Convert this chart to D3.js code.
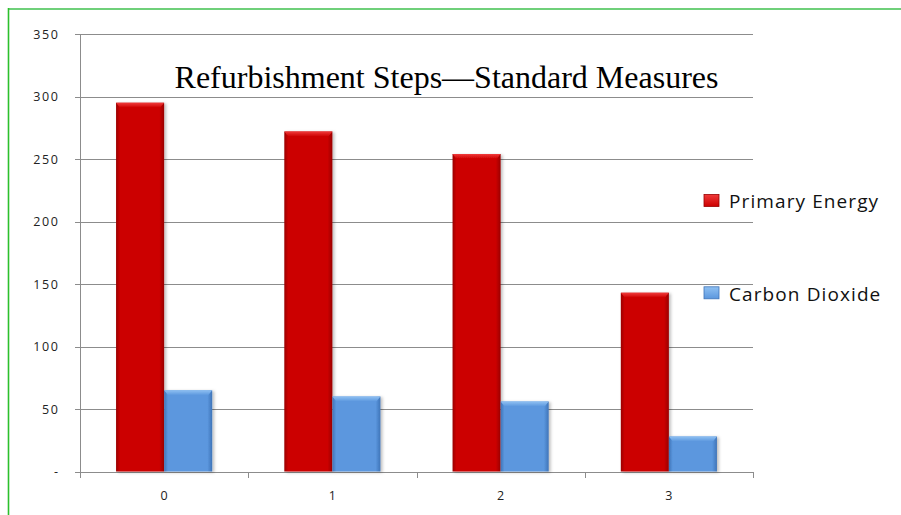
<!DOCTYPE html>
<html>
<head>
<meta charset="utf-8">
<script src="https://cdn.jsdelivr.net/npm/d3@7"></script>
<style>
  html, body { margin: 0; padding: 0; background: #fff; }
  svg { display: block; }
</style>
</head>
<body>
<svg id="chart" width="901" height="515"></svg>
<script>
// Refurbishment steps and the two measured quantities
const steps = ["0", "1", "2", "3"];
const primaryEnergy = [295, 272, 254, 143];
const carbonDioxide = [65, 60, 56, 28];
const yTicks = [0, 50, 100, 150, 200, 250, 300, 350];
const seriesNames = ["Primary Energy", "Carbon Dioxide"];
const titleText = "Refurbishment Steps\u2014Standard Measures";

const svg = d3.select("#chart");
const margin = { left: 80, right: 148, top: 34, bottom: 43.5 };
const W = 901, H = 515;

const x0 = d3.scaleBand().domain(steps).range([margin.left, W - margin.right]).paddingInner(0).paddingOuter(0);
const x1 = d3.scaleBand().domain(seriesNames).range([0, x0.bandwidth()]).paddingInner(0).paddingOuter(0.75);
const y = d3.scaleLinear().domain([0, 350]).range([H - margin.bottom, margin.top]);

const colors = { "Primary Energy": "#cc0000", "Carbon Dioxide": "#5b97de" };
const light = { "Primary Energy": "#f03a3a", "Carbon Dioxide": "#8fc0f2" };
const dark = { "Primary Energy": "#9a0000", "Carbon Dioxide": "#3f74b8" };

const defs = svg.append("defs");
seriesNames.forEach((s, i) => {
  const g = defs.append("linearGradient").attr("id", "side" + i).attr("x1", 0).attr("x2", 1).attr("y1", 0).attr("y2", 0);
  g.append("stop").attr("offset", "0%").attr("stop-color", dark[s]);
  g.append("stop").attr("offset", "8%").attr("stop-color", colors[s]);
  g.append("stop").attr("offset", "90%").attr("stop-color", colors[s]);
  g.append("stop").attr("offset", "100%").attr("stop-color", dark[s]);
  const t = defs.append("linearGradient").attr("id", "top" + i).attr("x1", 0).attr("x2", 0).attr("y1", 0).attr("y2", 1);
  t.append("stop").attr("offset", "0%").attr("stop-color", light[s]);
  t.append("stop").attr("offset", "100%").attr("stop-color", colors[s]);
});
const shadow = defs.append("filter").attr("id", "shadow").attr("x", "-20%").attr("y", "-5%").attr("width", "150%").attr("height", "115%");
shadow.append("feDropShadow").attr("dx", 2).attr("dy", 1).attr("stdDeviation", 1.5).attr("flood-color", "#000").attr("flood-opacity", 0.25);

// Frame
svg.append("line").attr("x1", 8).attr("x2", 901).attr("y1", 9).attr("y2", 9)
  .attr("stroke", "#6fd07a").attr("stroke-width", 2);
svg.append("line").attr("x1", 8.5).attr("x2", 8.5).attr("y1", 8).attr("y2", 515)
  .attr("stroke", "#2cc02c").attr("stroke-width", 1.6);

// Gridlines
svg.append("g").selectAll("line").data(yTicks).join("line")
  .attr("x1", margin.left - 5).attr("x2", W - margin.right)
  .attr("y1", d => Math.round(y(d)) + 0.5).attr("y2", d => Math.round(y(d)) + 0.5)
  .attr("stroke", "#8c8c8c").attr("stroke-width", 1);

// Y axis line
svg.append("line").attr("x1", margin.left + 0.5).attr("x2", margin.left + 0.5)
  .attr("y1", y(350)).attr("y2", y(0) + 5).attr("stroke", "#8c8c8c");

// X tick marks at category boundaries
const bounds = steps.map(s => x0(s)).concat([x0(steps[steps.length - 1]) + x0.bandwidth()]);
svg.append("g").selectAll("line").data(bounds).join("line")
  .attr("x1", d => Math.round(d) + 0.5).attr("x2", d => Math.round(d) + 0.5)
  .attr("y1", Math.round(y(0))).attr("y2", Math.round(y(0)) + 6)
  .attr("stroke", "#8c8c8c");

// Y tick labels
svg.append("g").selectAll("text").data(yTicks).join("text")
  .attr("x", 59.5).attr("y", d => y(d) + 4.5)
  .attr("text-anchor", "end")
  .attr("font-family", "'Open Sans', 'DejaVu Sans', sans-serif").attr("font-size", 12.5)
  .attr("letter-spacing", 1.6)
  .attr("fill", "#222")
  .text(d => d === 0 ? "-" : d);

// X tick labels
svg.append("g").selectAll("text").data(steps).join("text")
  .attr("x", d => x0(d) + x0.bandwidth() / 2).attr("y", 500)
  .attr("text-anchor", "middle")
  .attr("font-family", "'Open Sans', 'DejaVu Sans', sans-serif").attr("font-size", 12.5)
  .attr("fill", "#222")
  .text(d => d);

// Bars
const rows = steps.map((s, i) => ({ step: s, values: [primaryEnergy[i], carbonDioxide[i]] }));
const groups = svg.append("g").selectAll("g").data(rows).join("g")
  .attr("transform", d => `translate(${x0(d.step)},0)`);
groups.each(function (d) {
  const g = d3.select(this);
  seriesNames.forEach((s, i) => {
    const v = d.values[i];
    const bx = x1(s), bw = x1.bandwidth(), by = y(v), bh = y(0) - y(v);
    const bar = g.append("g").attr("filter", "url(#shadow)");
    bar.append("rect").attr("x", bx).attr("y", by).attr("width", bw).attr("height", bh)
      .attr("fill", `url(#side${i})`);
    // bevelled top edge
    bar.append("path")
      .attr("d", `M${bx},${by} L${bx + bw},${by} L${bx + bw - 4},${by + 5} L${bx + 4},${by + 5} Z`)
      .attr("fill", `url(#top${i})`);
  });
});

// Title
svg.append("text").attr("x", 446.5).attr("y", 88).attr("text-anchor", "middle")
  .attr("font-family", "'Liberation Serif', 'Times New Roman', serif").attr("font-size", 32)
  .attr("fill", "#000").text(titleText);

// Legend
const legendY = [200.5, 292.8];
const legend = svg.append("g").selectAll("g").data(seriesNames).join("g")
  .attr("transform", (d, i) => `translate(704,${legendY[i]})`);
legend.append("rect").attr("x", 0).attr("y", -6).attr("width", 15).attr("height", 12)
  .attr("fill", (d, i) => `url(#top${i})`).attr("stroke", d => dark[d]).attr("stroke-width", 0.8);
legend.append("text").attr("x", 25).attr("y", 7.8)
  .attr("font-family", "'Open Sans', 'DejaVu Sans', sans-serif").attr("font-size", 19)
  .attr("letter-spacing", 1.1)
  .attr("fill", "#111").text(d => d);
</script>
</body>
</html>
